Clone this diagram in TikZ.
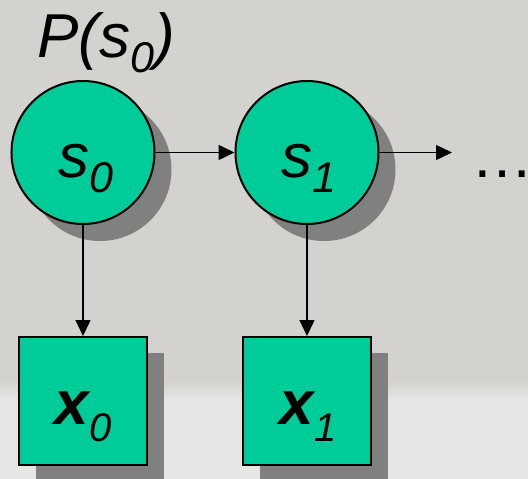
\documentclass[tikz,border=0pt]{standalone}
\usepackage{fontspec}
\setmainfont{Liberation Sans}
\usetikzlibrary{arrows.meta,shadows}
\definecolor{bggray}{RGB}{211,210,207}
\definecolor{bglight}{RGB}{230,230,228}
\definecolor{nodegreen}{RGB}{0,204,153}
\definecolor{shadowgray}{RGB}{128,128,128}
\newcommand{\bigtxt}{\fontsize{62}{62}\selectfont}
\newcommand{\subtxt}[3]{\raisebox{-#1}{\fontsize{#2}{#2}\selectfont #3}}
\begin{document}
\begin{tikzpicture}[x=1pt,y=-1pt,
  statenode/.style={circle, draw=black, line width=2pt, fill=nodegreen,
    minimum size=143pt, inner sep=0pt,
    drop shadow={shadow xshift=17pt, shadow yshift=-17pt, opacity=1, fill=shadowgray, draw=none}},
  obsnode/.style={rectangle, draw=black, line width=2pt, fill=nodegreen,
    minimum width=127.5pt, minimum height=128pt, inner sep=0pt,
    drop shadow={shadow xshift=17pt, shadow yshift=-16pt, opacity=1, fill=shadowgray, draw=none}},
  txt/.style={anchor=base, inner sep=0pt, font=\bigtxt\itshape},
  conn/.style={line width=1.6pt, -{Triangle[length=16pt,width=15pt]}}
]
\useasboundingbox (0,0) rectangle (528,479);
\fill[bggray] (0,0) rectangle (528,479);
\shade[top color=bggray, bottom color=bglight] (0,380) rectangle (528,400);
\fill[bglight] (0,400) rectangle (528,479);

\node[statenode] (s0) at (83,152.5) {};
\node[statenode] (s1) at (307,152.5) {};
\node[obsnode] (x0) at (83,401) {};
\node[obsnode] (x1) at (307,401) {};
\coordinate (e) at (452,152.5);

\draw[conn] (s0) -- (s1);
\draw[conn] (s1) -- (e);
\draw[conn] (s0) -- (x0);
\draw[conn] (s1) -- (x1);

\node[txt] (s0t) at (86,177) {s\subtxt{15pt}{43}{0}};
\node[txt] (s1t) at (309,177) {s\subtxt{15pt}{43}{1}};
\node[txt] (x0t) at (83,424) {\bfseries x\subtxt{17pt}{40}{\mdseries 0}};
\node[txt] (x1t) at (308,424) {\bfseries x\subtxt{17pt}{40}{\mdseries 1}};
\node[txt, anchor=base west] (p) at (37,57) {P(s\subtxt{15pt}{43}{0})};
\node[txt, anchor=base west, font=\bigtxt] (dots) at (471,177) {…};
\end{tikzpicture}
\end{document}
